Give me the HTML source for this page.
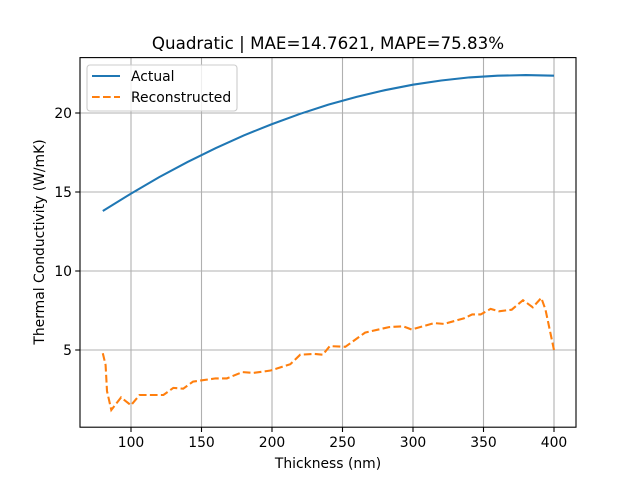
<!DOCTYPE html>
<html><head><meta charset="utf-8"><style>
body{margin:0;background:#fff;font-family:"DejaVu Sans","Liberation Sans",sans-serif;}
svg text{font-family:"DejaVu Sans","Liberation Sans",sans-serif;fill:#000;}
</style></head><body>
<svg id="chart" width="640" height="480" viewBox="0 0 640 480">
<rect width="640" height="480" fill="#fff"/>
<g id="grid"></g>
<g id="series"></g>
<rect x="80" y="57.6" width="496" height="369.6" fill="none" stroke="#000" stroke-width="1.1"/>
<g id="ticks"></g>
<text x="328" y="49" font-size="16.7" text-anchor="middle">Quadratic | MAE=14.7621, MAPE=75.83%</text>
<text x="328" y="468" font-size="13.9" text-anchor="middle">Thickness (nm)</text>
<text transform="translate(44,242) rotate(-90)" font-size="13.9" text-anchor="middle">Thermal Conductivity (W/mK)</text>
<g>
<rect x="87" y="65" width="150" height="46" rx="3" fill="#fff" fill-opacity="0.8" stroke="#ccc" stroke-width="1.1"/>
<line x1="92" y1="76" x2="120" y2="76" stroke="#1f77b4" stroke-width="2.08"/>
<text x="131" y="81" font-size="13.9">Actual</text>
<line x1="92" y1="97" x2="120" y2="97" stroke="#ff7f0e" stroke-width="2.08" stroke-dasharray="7.7,3.3"/>
<text x="131" y="102" font-size="13.9">Reconstructed</text>
</g>
</svg>
<script>
const xTicks=[100,150,200,250,300,350,400];
const yTicks=[5,10,15,20];
const actualX=[80,100,120,140,160,180,200,220,240,260,280,300,320,340,360,380,400];
const actualY=[13.80,14.90,15.94,16.89,17.77,18.58,19.30,19.95,20.53,21.02,21.44,21.79,22.06,22.25,22.36,22.40,22.36];
const reconX=[80,82,83,86,93,100,106,123,130,137,144,160,168,179,187,199,213,220,230,236,241,252,266,283,293,299,315,322,336,342,348,355,361,370,378,385,391,394,400];
const reconY=[4.8,4.05,2.4,1.2,2.0,1.5,2.15,2.15,2.6,2.55,3.0,3.2,3.2,3.6,3.55,3.7,4.1,4.7,4.75,4.7,5.25,5.2,6.1,6.45,6.5,6.3,6.7,6.65,7.0,7.25,7.25,7.6,7.45,7.55,8.15,7.7,8.3,7.55,5.0];
const NS="http://www.w3.org/2000/svg";
const sx=v=>102.8+(v-80)*1.41;
const sy=v=>429.0-v*15.8;
const grid=document.getElementById('grid'),ticks=document.getElementById('ticks'),series=document.getElementById('series');
function mk(tag,attrs,parent){const e=document.createElementNS(NS,tag);for(const k in attrs)e.setAttribute(k,attrs[k]);parent.appendChild(e);return e;}
xTicks.forEach(t=>{
 const g=mk('line',{x1:sx(t),x2:sx(t),y1:57.6,y2:427.2,stroke:'#b0b0b0','stroke-width':1.1},grid);
 
 
 const tk=mk('line',{x1:sx(t),x2:sx(t),y1:427.2,y2:432,stroke:'#000','stroke-width':1.1},ticks);
 
 
 const tx=mk('text',{x:sx(t),y:447,'font-size':13.9,'text-anchor':'middle'},ticks);
 tx.textContent=t;
 
 
});
yTicks.forEach(t=>{
 const g=mk('line',{x1:80,x2:576,y1:sy(t),y2:sy(t),stroke:'#b0b0b0','stroke-width':1.1},grid);
 
 
 const tk=mk('line',{x1:75.2,x2:80,y1:sy(t),y2:sy(t),stroke:'#000','stroke-width':1.1},ticks);
 
 
 const tx=mk('text',{x:72,y:sy(t)+5,'font-size':13.9,'text-anchor':'end'},ticks);
 tx.textContent=t;
 
 
});
const pa=actualX.map((x,i)=>sx(x).toFixed(1)+','+sy(actualY[i]).toFixed(1)).join(' ');
const la=mk('polyline',{points:pa,fill:'none',stroke:'#1f77b4','stroke-width':2.08},series);


const pr=reconX.map((x,i)=>sx(x).toFixed(1)+','+sy(reconY[i]).toFixed(1)).join(' ');
const lr=mk('polyline',{points:pr,fill:'none',stroke:'#ff7f0e','stroke-width':2.08,'stroke-dasharray':'7.7,3.3'},series);


</script>
</body></html>
